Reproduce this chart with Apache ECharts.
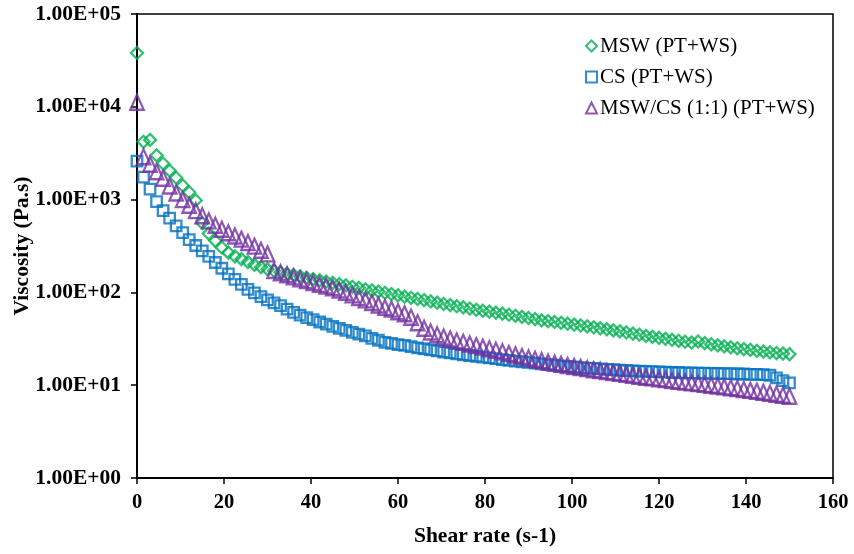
<!DOCTYPE html>
<html>
<head>
<meta charset="utf-8">
<script src="https://cdn.jsdelivr.net/npm/echarts@6/dist/echarts.min.js"></script>
<style>html,body{margin:0;padding:0;background:#fff;}#chart{width:854px;height:554px;}</style>
</head>
<body>
<div id="chart"></div>
<script>
const shearRate = [
  0,1.5,3,4.5,6,7.5,9,10.5,12,13.5,
  15,16.5,18,19.5,21,22.5,24,25.5,27,28.5,
  30,31.5,33,34.5,36,37.5,39,40.5,42,43.5,
  45,46.5,48,49.5,51,52.5,54,55.5,57,58.5,
  60,61.5,63,64.5,66,67.5,69,70.5,72,73.5,
  75,76.5,78,79.5,81,82.5,84,85.5,87,88.5,
  90,91.5,93,94.5,96,97.5,99,100.5,102,103.5,
  105,106.5,108,109.5,111,112.5,114,115.5,117,118.5,
  120,121.5,123,124.5,126,127.5,129,130.5,132,133.5,
  135,136.5,138,139.5,141,142.5,144,145.5,147,148.5,
  150
];
const mswViscosity = [
  38000,4200,4400,3000,2450,2050,1720,1420,1200,980,
  560,430,360,305,268,245,228,212,198,187,
  178,171,165,159,154,149,144,139,135,131,
  127,123,119,115,112,108,105,102,99,96,
  93,90,87.5,85,82.5,80,77.5,75,73,71,
  69,67,65,63.5,62,60.5,59,57.5,56,54.5,
  53,51.5,50,49,48,47,46,45,44,43,
  42,41,40,39,38,37,36,35,34,33.2,
  32.4,31.6,30.8,30.1,29.4,28.8,29.6,28.4,27.6,26.9,
  26.2,25.6,25.0,24.5,24.0,23.5,23.0,22.6,22.2,21.9,
  21.6
];
const csViscosity = [
  2600,1750,1300,950,760,630,520,440,370,320,
  280,245,210,182,158,138,122,108,99,90,
  83,77,72,66,61,57,53.5,51,48,45.5,
  43,41,39,37,35.5,34,32,30.5,29,28.2,
  27.4,26.8,26,25.3,24.7,24,23.4,22.8,22.3,21.8,
  21.3,20.9,20.5,20.1,19.7,19.3,18.9,18.5,18.2,17.9,
  17.6,17.3,17,16.7,16.4,16.1,15.9,15.7,15.5,15.3,
  15.2,15.0,14.8,14.7,14.5,14.4,14.3,14.2,14.1,14.0,
  13.9,13.8,13.7,13.7,13.6,13.6,13.5,13.5,13.4,13.4,
  13.3,13.3,13.2,13.2,13.1,13.1,13.0,12.8,12.0,11.2,
  10.6
];
const mixViscosity = [
  11200,2900,2400,2000,1700,1400,1180,1000,870,760,
  670,590,530,480,440,405,375,345,315,285,
  260,172,163,155,147,140,134,128,122,117,
  112,106,100,94,88,83,78,73,69,66,
  62,59,54,47,41,37.5,35,33,31.5,30,
  29,27.8,26.7,25.7,24.7,23.8,22.9,22,21.2,20.4,
  19.7,19,18.4,17.8,17.3,16.8,16.3,15.9,15.5,15.1,
  14.7,14.4,14.0,13.7,13.4,13.1,12.8,12.5,12.2,12.0,
  11.7,11.5,11.2,11.0,10.8,10.6,10.4,10.2,10.0,9.8,
  9.6,9.4,9.2,9.0,8.8,8.6,8.4,8.2,8.0,7.8,
  7.6
];
const seriesNames = ['MSW (PT+WS)', 'CS (PT+WS)', 'MSW/CS (1:1) (PT+WS)'];
const xTitle = 'Shear rate (s-1)';
const yTitle = 'Viscosity (Pa.s)';

function pairs(ys) { return shearRate.map((x, i) => [x, ys[i]]); }
const FONT = 'Liberation Serif';

const chart = echarts.init(document.getElementById('chart'), null, {renderer: 'canvas'});
chart.setOption({
  animation: false,
  backgroundColor: '#fff',
  grid: {left: 137, right: 21, top: 14, bottom: 76, show: true, borderColor: '#000', borderWidth: 1.5,
         backgroundColor: 'transparent', containLabel: false, outerBoundsMode: 'none'},
  legend: {
    orient: 'vertical', left: 580, top: 30, itemGap: 9, itemWidth: 11, itemHeight: 11,
    textStyle: {fontFamily: FONT, fontSize: 21, color: '#000', lineHeight: 22, padding: [0,0,0,-2]},
    data: seriesNames
  },
  xAxis: {
    type: 'value', min: 0, max: 160, interval: 20,
    name: xTitle, nameLocation: 'middle', nameGap: 47, nameMoveOverlap: false,
    nameTextStyle: {fontFamily: FONT, fontWeight: 'bold', fontSize: 21.5, color: '#000'},
    axisLine: {onZero: false, lineStyle: {color: '#000', width: 2}},
    axisTick: {length: 6, lineStyle: {color: '#000', width: 1.5}},
    axisLabel: {fontFamily: FONT, fontWeight: 'bold', fontSize: 20.5, color: '#000', margin: 14},
    splitLine: {show: false}
  },
  yAxis: {
    type: 'log', logBase: 10, min: 1, max: 100000,
    name: yTitle, nameLocation: 'middle', nameGap: 104, nameMoveOverlap: false,
    nameTextStyle: {fontFamily: FONT, fontWeight: 'bold', fontSize: 21.5, color: '#000'},
    axisLine: {onZero: false, lineStyle: {color: '#000', width: 2}},
    axisTick: {length: 6, lineStyle: {color: '#000', width: 1.5}},
    axisLabel: {
      fontFamily: FONT, fontWeight: 'bold', fontSize: 21.5, color: '#000', margin: 16,
      formatter: function (v) {
        const e = Math.round(Math.log10(v));
        const m = v / Math.pow(10, e);
        return m.toFixed(2) + 'E' + (e < 0 ? '-' : '+') + String(Math.abs(e)).padStart(2, '0');
      }
    },
    splitLine: {show: false}
  },
  series: [
    {name: seriesNames[0], type: 'scatter', symbol: 'diamond', symbolSize: 12,
     itemStyle: {color: 'rgba(0,0,0,0)', borderColor: '#00B050', borderWidth: 2.3},
     data: pairs(mswViscosity)},
    {name: seriesNames[1], type: 'scatter', symbol: 'rect', symbolSize: 10.5,
     itemStyle: {color: 'rgba(0,0,0,0)', borderColor: '#0070C0', borderWidth: 2.3},
     data: pairs(csViscosity)},
    {name: seriesNames[2], type: 'scatter', symbol: 'triangle', symbolSize: [13.5, 15],
     itemStyle: {color: 'rgba(0,0,0,0)', borderColor: '#7030A0', borderWidth: 2.3},
     data: pairs(mixViscosity)}
  ]
});
</script>
</body>
</html>
